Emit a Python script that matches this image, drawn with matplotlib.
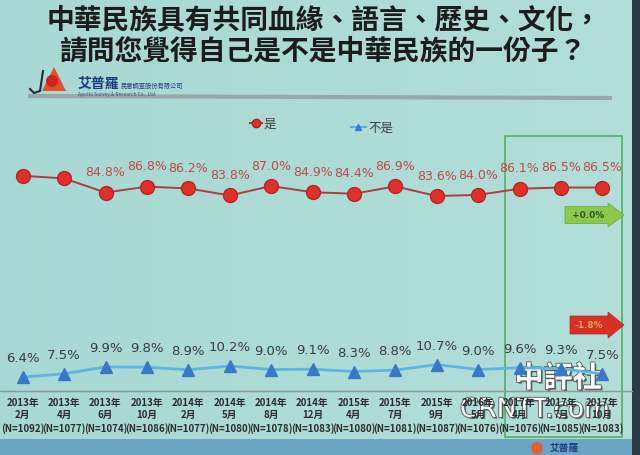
import matplotlib
matplotlib.use("Agg")
import matplotlib.pyplot as plt
import matplotlib.patches as mpatches
import matplotlib.patheffects as pe
import numpy as np

plt.rcParams['font.family'] = ['Noto Sans CJK TC', 'DejaVu Sans']

# ---- data ----
title_lines = ["中華民族具有共同血緣、語言、歷史、文化，",
               "請問您覺得自己是不是中華民族的一份子？"]
years = ["2013年", "2013年", "2013年", "2013年", "2014年", "2014年", "2014年", "2014年",
         "2015年", "2015年", "2015年", "2016年", "2017年", "2017年", "2017年"]
months = ["2月", "4月", "6月", "10月", "2月", "5月", "8月", "12月",
          "4月", "7月", "9月", "5月", "4月", "7月", "10月"]
samples = ["(N=1092)", "(N=1077)", "(N=1074)", "(N=1086)", "(N=1077)", "(N=1080)", "(N=1078)",
           "(N=1083)", "(N=1080)", "(N=1081)", "(N=1087)", "(N=1076)", "(N=1076)", "(N=1085)",
           "(N=1083)"]
yes_vals = [90.5, 89.6, 84.8, 86.8, 86.2, 83.8, 87.0, 84.9, 84.4, 86.9, 83.6, 84.0, 86.1, 86.5, 86.5]
no_vals = [6.4, 7.5, 9.9, 9.8, 8.9, 10.2, 9.0, 9.1, 8.3, 8.8, 10.7, 9.0, 9.6, 9.3, 7.5]
yes_label_shown = [False, False] + [True] * 13
series_names = ["是", "不是"]
change_yes = "+0.0%"
change_no = "-1.8%"

W, H = 640, 456
fig = plt.figure(figsize=(6.4, 4.56), dpi=100)
fig.patch.set_facecolor('#a8d7d2')

def fx(px):
    return px / W

def fy(py):
    return 1 - py / H

# background bands
bg = fig.add_axes([0, 0, 1, 1], zorder=-10)
bg.set_xlim(0, W); bg.set_ylim(H, 0); bg.axis('off')
grad = np.linspace(0, 1, 256).reshape(1, -1)
bg.imshow(np.dstack([np.full((1, 256), 0.66) + 0.04 * grad,
                     np.full((1, 256), 0.85) + 0.02 * grad,
                     np.full((1, 256), 0.83) + 0.02 * grad]),
          extent=[0, W, H, 0], aspect='auto')
bg.add_patch(mpatches.Rectangle((0, 440), W, 16, color='#6aa6c4', lw=0))
bg.add_patch(mpatches.Rectangle((632, 0), 8, H, color='#2b3a44', lw=0))
# gray rule under logo
bg.plot([28, 612], [97, 99], color='#9aa7a8', lw=3, solid_capstyle='butt')
# logo
bg.add_patch(mpatches.Polygon([[42, 92], [54, 68], [66, 92]], closed=True, color='#e0502a', lw=0))
bg.add_patch(mpatches.Circle((52, 82), 6, color='#d02020', lw=0))
bg.plot([30, 34, 40, 43], [90, 94, 92, 72], color='#2a2a3a', lw=1.5)
bg.text(78, 84, "艾普羅", fontsize=10, fontweight='bold', color='#203a80', va='center')
bg.text(121, 86, "民意調查股份有限公司", fontsize=4.5, color='#203a80', va='center')
bg.text(78, 94, "Apollo Survey & Research Co., Ltd.", fontsize=3.5, color='#405070', va='center')

# title
for i, line in enumerate(title_lines):
    bg.text(324, 21 + 30 * i, line, fontsize=20, fontweight='bold', color='#1c1c1c',
            ha='center', va='center')

# legend
bg.plot([250, 262], [124, 124], color='#a03c3c', lw=1.5)
bg.plot([256], [124], 'o', color='#e03030', ms=6, mec='#b02020')
bg.text(264, 124, series_names[0], fontsize=9, color='#404040', va='center')
bg.plot([351, 366], [128, 128], color='#5ab0e0', lw=1.5)
bg.plot([358], [128], '^', color='#3a7cc8', ms=5)
bg.text(368, 128, series_names[1], fontsize=9, color='#404040', va='center')

x = np.arange(len(yes_vals))

# top axes: 是
ax1 = fig.add_axes([fx(2), fy(230), fx(621), (230 - 160) / H])
ax1.set_xlim(-0.5, 14.5)
ax1.set_ylim(72.4, 96.2)
ax1.plot(x, yes_vals, color='#a84040', lw=1.4, marker='o', ms=10,
         mfc='#e0302c', mec='#b82424', mew=1)
for xi, v, show in zip(x, yes_vals, yes_label_shown):
    if show:
        ax1.annotate(f"{v:.1f}%", (xi, v), xytext=(0, 15), textcoords='offset points',
                     ha='center', va='center', fontsize=9, color='#bf4a4a',
                     family='DejaVu Sans')
ax1.axis('off')

# bottom axes: 不是
ax2 = fig.add_axes([fx(2), fy(392), fx(621), (392 - 340) / H])
ax2.set_xlim(-0.5, 14.5)
ax2.set_ylim(1.6, 19.5)
ax2.plot(x, no_vals, color='#5fb4e2', lw=2, marker='^', ms=9,
         mfc='#3a78c6', mec='#3a78c6')
for xi, v in zip(x, no_vals):
    ax2.annotate(f"{v:.1f}%", (xi, v), xytext=(0, 14), textcoords='offset points',
                 ha='center', va='center', fontsize=9.5, color='#3c3c3c',
                 family='DejaVu Sans')
ax2.patch.set_alpha(0)
for s in ['top', 'left', 'right']:
    ax2.spines[s].set_visible(False)
ax2.spines['bottom'].set_color('#8a9a9a')
ax2.set_yticks([])
ax2.set_xticks(x)
ax2.set_xticklabels([f"{a}\n{b}\n{c}" for a, b, c in zip(years, months, samples)],
                    fontsize=7, color='#2c2c2c', linespacing=1.35, fontweight='bold')
ax2.tick_params(axis='x', length=0, pad=4)
bg.plot([0, 632], [392, 392], color='#8a9a9a', lw=1)

# green highlight box
bg.add_patch(mpatches.Rectangle((505, 137), 117, 301, fill=False, ec='#52b060', lw=1.2))

# arrows
bg.add_patch(mpatches.FancyArrow(565, 216, 43, 0, width=17, head_width=24, head_length=16,
                                 length_includes_head=False, color='#8cc84a', ec='#6aa83a', lw=0.5))
bg.text(588, 216, change_yes, fontsize=6.5, fontweight='bold', color='#335520',
        ha='center', va='center', family='DejaVu Sans')
bg.add_patch(mpatches.FancyArrow(570, 326, 38, 0, width=18, head_width=26, head_length=16,
                                 length_includes_head=False, color='#d83028', ec='#b82020', lw=0.5))
bg.text(589, 326, change_no, fontsize=6.5, fontweight='bold', color='#f0a050',
        ha='center', va='center', family='DejaVu Sans')

# watermark
shadow = [pe.withSimplePatchShadow(offset=(1.2, -1.2), shadow_rgbFace='#303838', alpha=0.7),
          pe.withStroke(linewidth=1.2, foreground='#505858')]
bg.text(558, 379, "中評社", fontsize=21, color='white', ha='center', va='center',
        fontweight='bold', path_effects=shadow)
bg.text(535, 411, "CRNTT.com", fontsize=19, color='white', ha='center', va='center',
        family='DejaVu Sans', path_effects=shadow)

# bottom logo fragment
bg.add_patch(mpatches.Circle((537, 449), 6, color='#e06030', lw=0))
bg.text(550, 448, "艾普羅", fontsize=7, fontweight='bold', color='#203a80', va='center')

fig.savefig("out.png", dpi=100, facecolor=fig.get_facecolor())
